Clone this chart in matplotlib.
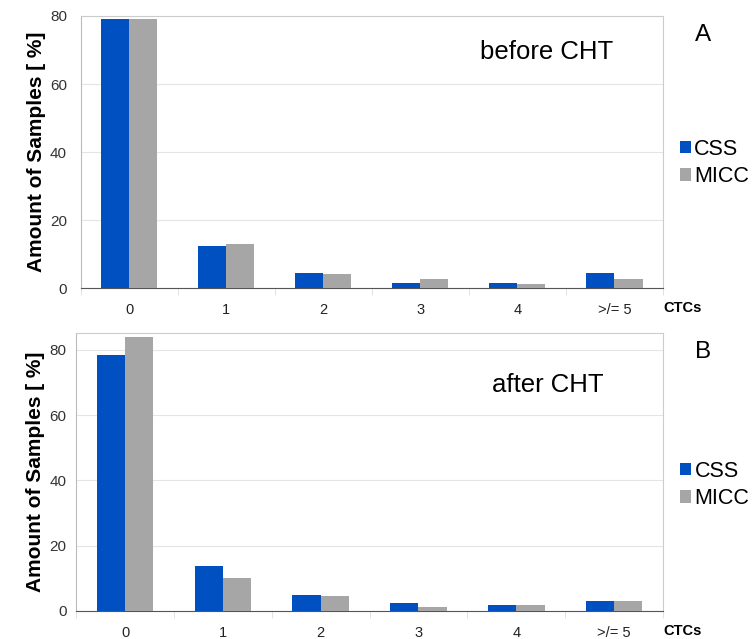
import matplotlib.pyplot as plt
import numpy as np

plt.rcParams["font.family"] = ["Liberation Sans", "DejaVu Sans"]

categories = ["0", "1", "2", "3", "4", ">/= 5"]
series_names = ["CSS", "MICC"]

before_css = [79.1, 12.4, 4.6, 1.6, 1.6, 4.5]
before_micc = [79.1, 13.1, 4.1, 2.6, 1.1, 2.6]

after_css = [78.5, 13.8, 4.8, 2.5, 1.7, 2.9]
after_micc = [83.8, 10.0, 4.5, 1.3, 1.7, 2.9]

panels = [
    ("A", "before CHT", before_css, before_micc),
    ("B", "after CHT", after_css, after_micc),
]

blue = "#0050C2"
grey = "#A6A6A6"
width = 0.29

fig = plt.figure(figsize=(7.55, 6.39), dpi=100)
ax_top = fig.add_axes([0.107, 0.549, 0.771, 0.426])
ax_bot = fig.add_axes([0.101, 0.044, 0.777, 0.435])

settings = [
    # axes, ylim top, text pos, legend y, letter y, ytick pad
    (ax_top, 80, (0.80, 0.868), 0.46, 0.945, 10),
    (ax_bot, 85.2, (0.804, 0.813), 0.453, 0.449, 7),
]

x = np.arange(len(categories))
for (letter, title, css, micc), (ax, ytop, tpos, leg_y, let_y, ypad) in zip(panels, settings):
    ax.bar(x - width / 2, css, width, color=blue, label=series_names[0], zorder=3)
    ax.bar(x + width / 2, micc, width, color=grey, label=series_names[1], zorder=3)

    ax.set_xlim(-0.5, len(categories) - 0.5)
    ax.set_ylim(0, ytop)
    ax.set_yticks([0, 20, 40, 60, 80])
    ax.set_xticks(x)
    ax.set_xticklabels(categories, fontsize=10.5, color="#222222")
    ax.set_xticks(np.arange(-0.5, len(categories), 1.0), minor=True)
    ax.tick_params(axis="x", which="major", length=0, pad=11)
    ax.tick_params(axis="x", which="minor", length=5, color="#dddddd")
    ax.tick_params(axis="y", length=0, labelsize=11, labelcolor="#333333", pad=ypad)

    ax.grid(axis="y", color="#e4e4e4", linewidth=0.8, zorder=0)
    ax.spines["left"].set_color("#bbbbbb")
    ax.spines["bottom"].set_color("#555555")
    ax.spines["top"].set_color("#cccccc")
    ax.spines["right"].set_color("#cccccc")

    ax.set_ylabel("Amount of Samples [ %]", fontsize=15, fontweight="bold", labelpad=3)

    ax.text(tpos[0], tpos[1], title, transform=ax.transAxes, fontsize=18.5,
            ha="center", va="center")
    ax.text(1.033, -0.072, "CTCs", transform=ax.transAxes, fontsize=10.5,
            fontweight="bold", ha="center", va="center")
    fig.text(0.931, let_y, letter, fontsize=17.5, ha="center", va="center")

    ax.legend(loc="center left", bbox_to_anchor=(1.03, leg_y), frameon=False,
              fontsize=15.5, handlelength=0.5, handleheight=0.5, handletextpad=0.15,
              labelspacing=0.3, borderaxespad=0, borderpad=0)

fig.savefig("out.png", dpi=100)
